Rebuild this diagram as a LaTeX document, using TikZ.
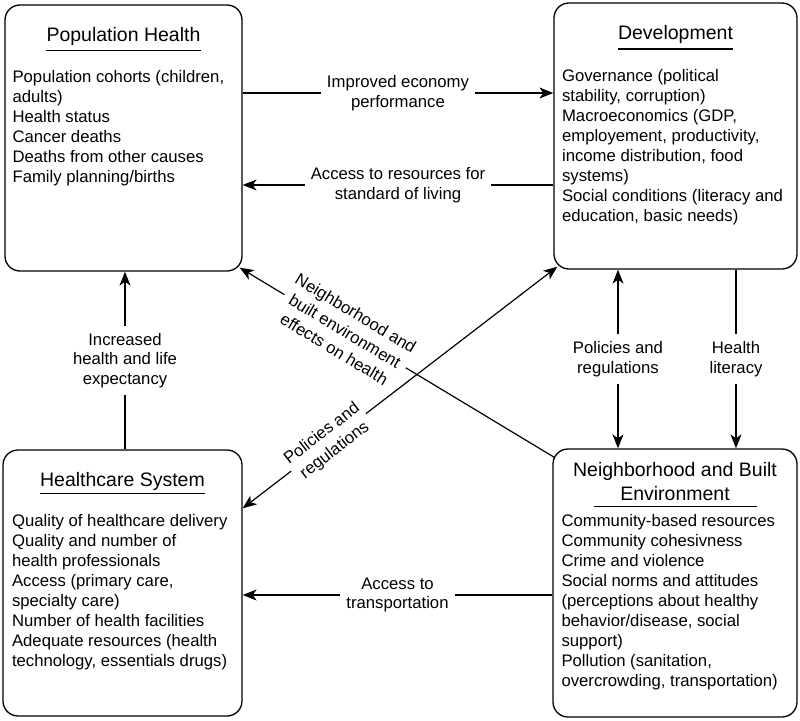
\documentclass[tikz,border=0pt]{standalone}
\usepackage{fontspec}
\setmainfont{Liberation Sans}
\usetikzlibrary{positioning,arrows.meta}

\begin{document}
\begin{tikzpicture}[
  x=1pt, y=-1pt,
  >={Stealth[length=14pt,width=11pt,inset=4pt]},   % set default arrow tip
  box/.style={rectangle, draw, rounded corners=15pt, line width=1.3pt, inner sep=0pt},
  title/.style={font=\fontsize{19.5}{23.5}\selectfont, inner sep=0pt, align=center},
  uline/.style={line width=1.3pt},
  body/.style={font=\fontsize{16.7}{20}\selectfont, inner sep=0pt, align=left, anchor=north west},
  lbl/.style={font=\fontsize{16.7}{19.5}\selectfont, fill=white, align=center, inner xsep=6pt, inner ysep=7pt},
  dlbl/.style={lbl, font=\fontsize{16.7}{21}\selectfont, inner xsep=2pt, inner ysep=2pt},
  link/.style={line width=1.2pt}
]
\useasboundingbox (0,0) rectangle (800,720);

% Boxes
\node[box, minimum width=237pt, minimum height=266pt] (ph)  at (123.5,138) {};
\node[box, minimum width=243pt, minimum height=266pt] (dev) at (675.5,136) {};
\node[box, minimum width=239pt, minimum height=266pt] (hc)  at (122.5,583) {};
\node[box, minimum width=244pt, minimum height=268pt] (nb)  at (675,583)   {};

% Titles
\node[title, anchor=base]  (phtitle)  at ([yshift=-37pt]ph.north)  {Population Health};
\node[title, anchor=base]  (devtitle) at ([yshift=-37.5pt]dev.north) {Development};
\node[title, anchor=base]  (hctitle)  at ([yshift=-37pt]hc.north)  {Healthcare System};
\node[title, anchor=north] (nbtitle)  at ([yshift=-14pt]nb.north)  {Neighborhood and Built\\Environment};

\draw[uline] ([yshift=-9pt]phtitle.base west)  -- ([yshift=-9pt]phtitle.base east);
\draw[uline] ([yshift=-9pt]devtitle.base west) -- ([yshift=-9pt]devtitle.base east);
\draw[uline] ([yshift=-7pt]hctitle.base west)  -- ([yshift=-7pt]hctitle.base east);
\draw[uline] ([shift={(-81.5pt,-58pt)}]nb.north) -- ([shift={(81.5pt,-58pt)}]nb.north);

% Contents
\node[body] (phbody) at ([shift={(8pt,-66pt)}]ph.north west)
  {Population cohorts (children,\\adults)\\Health status\\Cancer deaths\\Deaths from other causes\\Family planning/births};
\node[body] (devbody) at ([shift={(8.5pt,-67pt)}]dev.north west)
  {Governance (political\\stability, corruption)\\Macroeconomics (GDP,\\employement, productivity,\\income distribution, food\\systems)\\Social conditions (literacy and\\education, basic needs)};
\node[body] (hcbody) at ([shift={(9.5pt,-65pt)}]hc.north west)
  {Quality of healthcare delivery\\Quality and number of\\health professionals\\Access (primary care,\\specialty care)\\Number of health facilities\\Adequate resources (health\\technology, essentials drugs)};
\node[body] (nbbody) at ([shift={(9pt,-66pt)}]nb.north west)
  {Community-based resources\\Community cohesivness\\Crime and violence\\Social norms and attitudes\\(perceptions about healthy\\behavior/disease, social\\support)\\Pollution (sanitation,\\overcrowding, transportation)};

% Edges
\draw[link,->] ([yshift=45pt]ph.east) -- ([yshift=45pt]ph.east -| dev.west)
  node[lbl, midway] {Improved economy\\performance};
\draw[link,->] ([yshift=-47pt]ph.east -| dev.west) -- ([yshift=-47pt]ph.east)
  node[lbl, midway] {Access to resources for\\standard of living};
\draw[link,->] ([xshift=2.5pt]hc.north) -- ([xshift=2.5pt]hc.north |- ph.south)
  node[lbl, midway] {Increased\\health and life\\expectancy};
\draw[link,<->] ([xshift=-57.5pt]dev.south) -- ([xshift=-57.5pt]dev.south |- nb.north)
  node[lbl, midway] {Policies and\\regulations};
\draw[link,->] ([xshift=60.5pt]dev.south) -- ([xshift=60.5pt]dev.south |- nb.north)
  node[lbl, midway] {Health\\literacy};
\draw[link,->] ([yshift=-12pt]nb.west) -- ([yshift=-12pt]nb.west -| hc.east)
  node[lbl, midway] {Access to\\transportation};
\draw[link,->] ([shift={(2pt,-9pt)}]nb.north west) -- ([shift={(-3pt,4pt)}]ph.south east)
  node[dlbl, sloped, pos=0.665] {Neighborhood and\\built environment\\effects on health};
\draw[link,<->] ([yshift=-59pt]hc.north east) -- ([shift={(4pt,3pt)}]dev.south west)
  node[dlbl, sloped, pos=0.273] {Policies and\\regulations};
\end{tikzpicture}
\end{document}
